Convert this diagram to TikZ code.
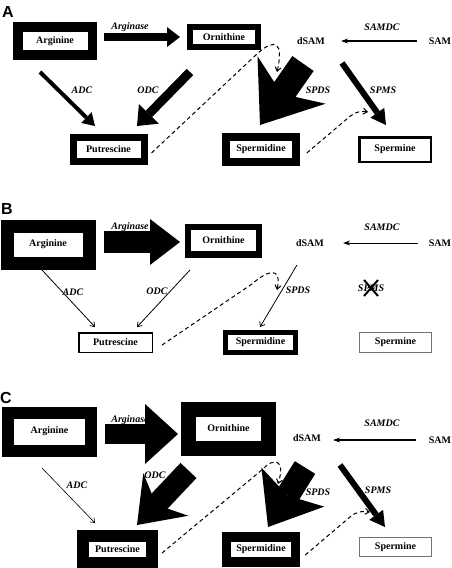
\documentclass[tikz,border=0pt]{standalone}
\usepackage{fontspec}
\setmainfont{Liberation Serif}
\newfontfamily\panelfont{Liberation Sans}
\usetikzlibrary{arrows.meta, positioning}

\tikzset{
  met/.style = {draw, inner sep=0pt, font=\bfseries},
  cof/.style = {inner sep=0pt, font=\bfseries},
  enz/.style = {inner sep=0pt, font=\bfseries\itshape},
  panel/.style = {inner sep=0pt, font=\panelfont\bfseries\fontsize{16}{16}\selectfont},
  feed/.style = {line width=1pt, dash pattern=on 4pt off 3pt, -{Straight Barb[length=4pt, width=6pt]}},
  slim/.style = {line width=#1, -{Straight Barb[length=4pt, width=6pt]}},
  samdc/.style = {line width=#1, -{Stealth[length=7pt, width=5pt]}},
  fat/.style n args = {3}{line width=#1, -{Triangle[length=#2, width=#3, line width=0pt]}},
  fatter/.style n args = {4}{line width=#1, -{Stealth[length=#2, width=#3, inset=#4, line width=0pt]}},
}

\begin{document}
\begin{tikzpicture}[x=1pt, y=-1pt]
  \useasboundingbox (0,0) rectangle (452,568);

  % ---------- A ----------
  \node[panel] (A) at (8,12) {A};
  \node[met, minimum width=74.5pt, minimum height=28pt, line width=9.5pt] (argA) at (55,41) {Arginine};
  \node[met, minimum width=68pt, minimum height=20.5pt, line width=5.75pt] (ornA) at (224,37) {Ornithine};
  \node[met, minimum width=71pt, minimum height=24pt, line width=7pt] (putA) at (108.5,149) {Putrescine};
  \node[met, minimum width=69.5pt, minimum height=25pt, line width=8pt] (spdA) at (261,149.5) {Spermidine};
  \node[met, minimum width=71.5pt, minimum height=24.5pt, line width=2.5pt] (spmA) at (395,149.5) {Spermine};
  \node[cof] (dsamA) at (311,41) {dSAM};
  \node[cof] (samA) at (440,41) {SAM};

  \node[enz] (argase-A) at (130,27) {Arginase};
  \node[enz] (samdc-A) at (382,27) {SAMDC};
  \node[enz] (adc-A) at (82,90) {ADC};
  \node[enz] (odc-A) at (148,90) {ODC};
  \node[enz] (spds-A) at (318,90) {SPDS};
  \node[enz] (spms-A) at (383,90) {SPMS};

  \coordinate (argase-A-s) at (104,37);  \coordinate (argase-A-t) at (180,37);
  \coordinate (adc-A-s) at (40,72);      \coordinate (adc-A-t) at (95,126);
  \coordinate (odc-A-s) at (190,72);     \coordinate (odc-A-t) at (137,126);
  \coordinate (spds-A-s) at (303,63.5);  \coordinate (spds-A-t) at (260,125);
  \coordinate (spms-A-s) at (342,63);    \coordinate (spms-A-t) at (386,125);
  \coordinate (fb-A1) at (277,72);       \coordinate (fb-A2) at (368,112);

  \draw[fat={8pt}{13pt}{20pt}] (argase-A-s) -- (argase-A-t);
  \draw[samdc=1.8pt, shorten <=12pt, shorten >=16pt] (samA.west) -- (samA.west -| dsamA.east);
  \draw[fat={4pt}{12pt}{15pt}] (adc-A-s) -- (adc-A-t);
  \draw[fat={9pt}{17pt}{28pt}] (odc-A-s) -- (odc-A-t);
  \draw[fatter={26pt}{55pt}{83pt}{17pt}] (spds-A-s) -- (spds-A-t);
  \draw[fat={6pt}{15pt}{17pt}] (spms-A-s) -- (spms-A-t);
  \draw[feed] ([shift={(4,4)}]putA.east) -- (258,53) .. controls (275,38) and (284,42) .. (fb-A1);
  \draw[feed] ([shift={(7,3.5)}]spdA.east) -- (348,118) .. controls (356,111) and (362,111) .. (fb-A2);

  % ---------- B ----------
  \node[panel] (B) at (7,209) {B};
  \node[met, minimum width=82pt, minimum height=37pt, line width=13pt] (argB) at (48,244.5) {Arginine};
  \node[met, minimum width=71pt, minimum height=27.5pt, line width=6.5pt] (ornB) at (223.5,240.5) {Ornithine};
  \node[met, minimum width=73.5pt, minimum height=19.5pt, line width=1.5pt] (putB) at (115.5,342.5) {Putrescine};
  \node[met, minimum width=70pt, minimum height=20pt, line width=5pt] (spdB) at (260.5,342.5) {Spermidine};
  \node[met, draw=black!55, minimum width=72.2pt, minimum height=20.2pt, line width=0.8pt] (spmB) at (395.5,342.5) {Spermine};
  \node[cof] (dsamB) at (310,243) {dSAM};
  \node[cof] (samB) at (440,243) {SAM};

  \node[enz] (argase-B) at (130,227) {Arginase};
  \node[enz] (samdc-B) at (382,227) {SAMDC};
  \node[enz] (adc-B) at (73,292) {ADC};
  \node[enz] (odc-B) at (157,291) {ODC};
  \node[enz] (spds-B) at (298,290) {SPDS};
  \node[enz] (spms-B) at (371,288) {SPMS};

  \coordinate (argase-B-s) at (104,242); \coordinate (argase-B-t) at (180,242);
  \coordinate (adc-B-s) at (42,270);     \coordinate (adc-B-t) at (95,327);
  \coordinate (odc-B-s) at (190,270);    \coordinate (odc-B-t) at (137,327);
  \coordinate (spds-B-s) at (297,265);   \coordinate (spds-B-t) at (260,327);
  \coordinate (fb-B1) at (277,290);

  \draw[fat={22pt}{30pt}{46pt}] (argase-B-s) -- (argase-B-t);
  \draw[samdc=1pt, shorten <=11pt, shorten >=19pt] (samB.west) -- (samB.west -| dsamB.east);
  \draw[slim=0.8pt] (adc-B-s) -- (adc-B-t);
  \draw[slim=0.8pt] (odc-B-s) -- (odc-B-t);
  \draw[slim=0.8pt] (spds-B-s) -- (spds-B-t);
  \draw[line width=2pt] ([shift={(-7,-8)}]spms-B.center) -- ([shift={(7,8)}]spms-B.center)
                        ([shift={(-7,8)}]spms-B.center) -- ([shift={(7,-8)}]spms-B.center);
  \draw[feed] ([shift={(9,2.5)}]putB.east) -- (252,284) .. controls (268,270) and (282,266) .. (fb-B1);

  % ---------- C ----------
  \node[panel] (C) at (6,397.5) {C};
  \node[met, minimum width=82.5pt, minimum height=38pt, line width=12pt] (argC) at (49.5,431.5) {Arginine};
  \node[met, minimum width=80.5pt, minimum height=39pt, line width=15pt] (ornC) at (228.5,428.5) {Ornithine};
  \node[met, minimum width=69pt, minimum height=27pt, line width=12pt] (putC) at (117.5,549.5) {Putrescine};
  \node[met, minimum width=69pt, minimum height=25pt, line width=9.5pt] (spdC) at (261,549.5) {Spermidine};
  \node[met, draw=black!55, minimum width=72.2pt, minimum height=19.2pt, line width=0.8pt] (spmC) at (395.5,547) {Spermine};
  \node[cof] (dsamC) at (307,438) {dSAM};
  \node[cof] (samC) at (440,440) {SAM};

  \node[enz] (argase-C) at (130,420) {Arginase};
  \node[enz] (samdc-C) at (382,423) {SAMDC};
  \node[enz] (adc-C) at (77,485) {ADC};
  \node[enz] (odc-C) at (155,475) {ODC};
  \node[enz] (spds-C) at (318,492) {SPDS};
  \node[enz] (spms-C) at (378,490) {SPMS};

  \coordinate (argase-C-s) at (105,434);  \coordinate (argase-C-t) at (178,434);
  \coordinate (adc-C-s) at (42,468);      \coordinate (adc-C-t) at (95,523);
  \coordinate (odc-C-s) at (188.5,470.5); \coordinate (odc-C-t) at (137,525);
  \coordinate (spds-C-s) at (305,467.5);  \coordinate (spds-C-t) at (268,527);
  \coordinate (spms-C-s) at (340,465);    \coordinate (spms-C-t) at (385,527);
  \coordinate (fb-C1) at (278,484);       \coordinate (fb-C2) at (370,512);

  \draw[fat={20pt}{33pt}{60pt}] (argase-C-s) -- (argase-C-t);
  \draw[samdc=1.8pt, shorten <=13pt, shorten >=12pt] (samC.west) -- (samC.west -| dsamC.east);
  \draw[slim=0.6pt] (adc-C-s) -- (adc-C-t);
  \draw[fatter={22pt}{42pt}{62pt}{14pt}] (odc-C-s) -- (odc-C-t);
  \draw[fatter={24pt}{47pt}{74pt}{10pt}] (spds-C-s) -- (spds-C-t);
  \draw[fat={6pt}{15pt}{17pt}] (spms-C-s) -- (spms-C-t);
  \draw[feed] ([shift={(4,3.5)}]putC.east) -- (263,469) .. controls (273,458) and (286,458) .. (fb-C1);
  \draw[feed] ([shift={(5,5.5)}]spdC.east) -- (350,517) .. controls (357,511) and (363,511) .. (fb-C2);
\end{tikzpicture}
\end{document}
